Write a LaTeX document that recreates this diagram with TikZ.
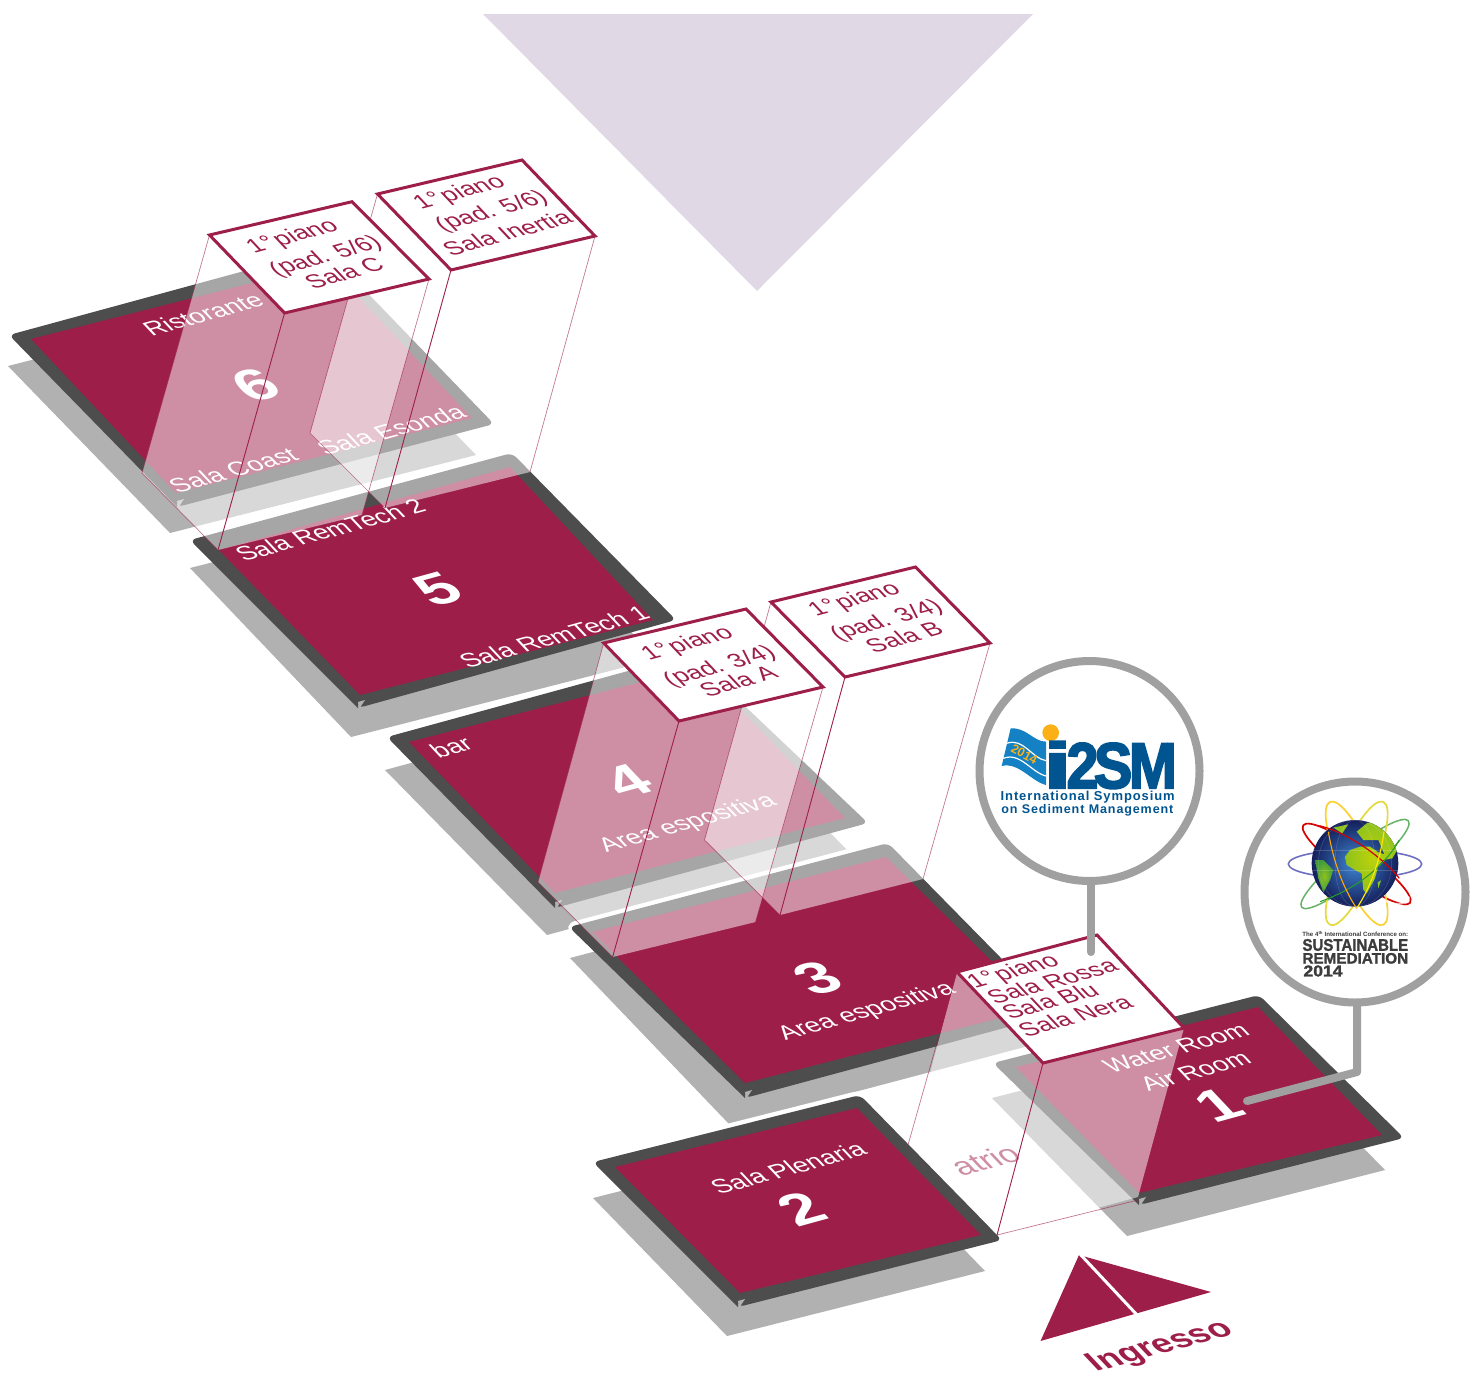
\documentclass[tikz,border=0pt]{standalone}
\usepackage{fontspec}
\usepackage{graphicx}
\setmainfont{Liberation Sans}
\newfontfamily\fatfont[FakeBold=1.6]{Liberation Sans Bold}
\newfontfamily\heavyfont[FakeBold=3.2]{Liberation Sans Bold}
\newfontfamily\spacedfont[LetterSpace=7]{Liberation Sans Bold}
\definecolor{crim}{HTML}{9D1E49}
\definecolor{darkband}{HTML}{4D4D4D}
\definecolor{shadowgray}{HTML}{B1B1B1}
\definecolor{ringgray}{HTML}{A0A0A0}
\definecolor{lilac}{HTML}{E1D8E5}
\definecolor{i2blue}{HTML}{00548F}
\definecolor{flagblue}{HTML}{1481C4}
\definecolor{sunorange}{HTML}{FBB016}
\definecolor{logotext}{HTML}{3C3C3C}
\definecolor{globelight}{HTML}{3F86D3}
\definecolor{globedark}{HTML}{141F5A}
\definecolor{landlime}{HTML}{BBD20A}
\definecolor{landmid}{HTML}{8FC11E}
\definecolor{landdeep}{HTML}{3F9A3C}
\tikzset{
  isotext/.style={transform shape,cm={.964,.266,-.64,.68,(0,0)},inner sep=0pt,text=white,font=\fontsize{26}{26}\selectfont},
  labeltext/.style={isotext,text=crim,font=\fontsize{25.3}{26}\selectfont},
  numtext/.style={transform shape,cm={.964,.266,-.585,.62,(0,0)},inner sep=0pt,text=white,font=\fontsize{64}{64}\selectfont\bfseries},
  floorband/.style={fill=darkband},
  floorcore/.style={fill=crim},
  floorhalo/.style={draw=white,line width=9pt,rounded corners=6pt},
  floorshadow/.style={fill=shadowgray},
  pane/.style={fill=white,fill opacity=.5},
  beamstrong/.style={draw=crim,line width=.9pt},
  beamfaint/.style={draw=crim,line width=.7pt,draw opacity=.6},
  boxtop/.style={fill=white,draw=crim,line width=3pt,line join=miter},
  ring/.style={draw=ringgray,line width=8pt,fill=white},
  stem/.style={draw=ringgray,line width=8pt,line cap=round,line join=round},
}
% band with rounded left, top and right corners, sharp bottom corner with its small notch
\newcommand{\floorbandshape}[4]{%
  \fill[floorband] (#4) [rounded corners=6pt] -- (#1) -- (#2) -- (#3) -- (#4) [sharp corners] -- cycle;
  \begin{scope}[shift={(#4)}]\fill[floorshadow] (1,1) -- (7,-8) -- (0,-6) -- cycle;\end{scope}}
\begin{document}
\begin{tikzpicture}[x=1pt,y=-1pt]
\useasboundingbox (0,0) rectangle (1479,1374);
% big lilac triangle
\fill[lilac] (483,14) -- (1033,14) -- (757,291) -- cycle;
% floor 6
\fill[floorshadow] (8,366) -- (170,533) -- (476,455) -- (314,288) -- cycle;
\floorbandshape{9,335}{325,249}{494,424}{177,507}
\fill[floorcore] (31,339) -- (327,264) -- (472,418) -- (176,493) -- cycle;
% floor 5
\path[floorhalo] (192,540) -- (512,453) -- (674,620) -- (358,708) -- cycle;
\fill[floorshadow] (190,568) -- (351,737) -- (657,659) -- (496,490) -- cycle;
\floorbandshape{190,540}{512,453}{676,620}{358,708}
\fill[floorcore] (219,550) -- (510,467) -- (653,620) -- (360,695) -- cycle;
% floor 4
\path[floorhalo] (388,737) -- (690,654) -- (866,823) -- (555,908) -- cycle;
\fill[floorshadow] (385,770) -- (547,935) -- (850,853) -- (688,688) -- cycle;
\floorbandshape{387,737}{690,654}{868,823}{555,908}
\fill[floorcore] (409,742) -- (699,667) -- (845,818) -- (555,893) -- cycle;
% floor 3
\path[floorhalo] (570,927) -- (888,843) -- (1055,1014) -- (745,1098) -- cycle;
\fill[floorshadow] (570,958) -- (730,1125) -- (1036,1044) -- (876,877) -- cycle;
\floorbandshape{569,927}{888,843}{1056,1014}{745,1098}
\fill[floorcore] (592,932) -- (886,857) -- (1039,1008) -- (745,1083) -- cycle;
% floor 1
\path[floorhalo] (994,1063) -- (1259,995) -- (1403,1138) -- (1139,1205) -- cycle;
\fill[floorshadow] (992,1098) -- (1127,1236) -- (1385,1170) -- (1250,1032) -- cycle;
\floorbandshape{993,1063}{1259,995}{1404,1138}{1139,1205}
\fill[floorcore] (1016,1067) -- (1258,1007) -- (1382,1135) -- (1139,1193) -- cycle;
% floor 2
\path[floorhalo] (594,1162) -- (860,1095) -- (1001,1240) -- (738,1307) -- cycle;
\fill[floorshadow] (593,1198) -- (727,1336) -- (985,1271) -- (851,1133) -- cycle;
\floorbandshape{593,1162}{860,1095}{1002,1240}{738,1307}
\fill[floorcore] (615,1167) -- (857,1108) -- (981,1235) -- (740,1293) -- cycle;
% floor labels
\node[isotext] (t6a) at (203,314) {Ristorante};
\node[isotext] (t6b) at (233,470) {Sala Coast};
\node[isotext] (t6c) at (391,430) {Sala Esonda};
\node[numtext] (n6) at (256,385) {6};
\node[isotext] (t5a) at (330,530) {Sala RemTech 2};
\node[isotext] (t5b) at (554,637) {Sala RemTech 1};
\node[numtext] (n5) at (438,589) {5};
\node[isotext] (t4a) at (451,747) {bar};
\node[isotext] (t4b) at (688,824) {Area espositiva};
\node[numtext] (n4) at (628,781) {4};
\node[isotext] (t3a) at (867,1012) {Area espositiva};
\node[numtext] (n3) at (818,978) {3};
\node[isotext] (t1a) at (1176,1048) {Water Room};
\node[isotext] (t1b) at (1195,1071) {Air Room};
\node[numtext] (n1) at (1219,1105) {1};
\node[isotext] (t2a) at (788,1168) {Sala Plenaria};
\node[numtext] (n2) at (802,1209) {2};
\node[labeltext,font=\fontsize{33}{33}\selectfont] (atrio) at (985,1160) {atrio};
% beams
\fill[pane] (209.5,235) -- (284.6,313) -- (429,279) -- (362,515) -- (218,550) -- (142,473) -- cycle;
\fill[pane] (377.5,194) -- (451,270) -- (595,236) -- (530,472) -- (385,508) -- (310,433) -- cycle;
\fill[pane] (603.7,643) -- (679,721) -- (823,687) -- (755.5,922) -- (612.6,957) -- (538,882) -- cycle;
\fill[pane] (771,602) -- (845,677) -- (990,643) -- (923,879) -- (780,915) -- (704.5,840) -- cycle;
\fill[pane] (957,972) -- (1043,1063) -- (1184,1028) -- (1138,1197) -- (997,1235) -- (911,1144) -- cycle;
% beam edges
\draw[beamfaint] (209.5,235) -- (142,473) -- (218,550);
\draw[beamstrong] (284.6,313) -- (218,550);
\draw[beamfaint] (429,279) -- (362,515);
\draw[beamfaint] (377.5,194) -- (310,433) -- (385,508);
\draw[beamstrong] (451,270) -- (385,508);
\draw[beamfaint] (595,236) -- (530,472);
\draw[beamfaint] (603.7,643) -- (538,882) -- (612.6,957);
\draw[beamstrong] (679,721) -- (612.6,957);
\draw[beamfaint] (823,687) -- (755.5,922);
\draw[beamfaint] (771,602) -- (704.5,840) -- (780,915);
\draw[beamstrong] (845,677) -- (780,915);
\draw[beamfaint] (990,643) -- (923,879);
\draw[beamfaint] (957,972) -- (908,1145);
\draw[beamstrong] (1043,1063) -- (997,1235);
\draw[beamfaint] (997,1235) -- (1138,1200);
% raised boxes
\draw[boxtop] (209.5,235) -- (352,201.7) -- (429,279) -- (284.6,313) -- cycle;
\draw[boxtop] (377.5,194) -- (522,160) -- (595,236) -- (451,270) -- cycle;
\draw[boxtop] (603.7,643) -- (746,609) -- (823,687) -- (679,721) -- cycle;
\draw[boxtop] (771,602) -- (915.5,567) -- (990,643) -- (845,677) -- cycle;
\draw[boxtop] (957,972) -- (1097,935) -- (1184,1028) -- (1043,1063) -- cycle;
% box labels
\node[labeltext] (c1) at (293,237) {1°\kern-4pt{} piano};
\node[labeltext] (c2) at (326,257) {(pad. 5/6)};
\node[labeltext] (c3) at (344,273) {Sala C};
\node[labeltext] (i1) at (460,193) {1°\kern-4pt{} piano};
\node[labeltext] (i2) at (492,212) {(pad. 5/6)};
\node[labeltext] (i3) at (507,233) {Sala Inertia};
\node[labeltext] (a1) at (688,644) {1°\kern-4pt{} piano};
\node[labeltext] (a2) at (720,667) {(pad. 3/4)};
\node[labeltext] (a3) at (738,681) {Sala A};
\node[labeltext] (b1) at (855,600) {1°\kern-4pt{} piano};
\node[labeltext] (b2) at (887,621) {(pad. 3/4)};
\node[labeltext] (b3) at (904,637) {Sala B};
\node[labeltext] (r1) at (1014,972) {1°\kern-4pt{} piano};
\node[labeltext] (r2) at (1052,981) {Sala Rossa};
\node[labeltext] (r3) at (1050,1001) {Sala Blu};
\node[labeltext] (r4) at (1075,1016) {Sala Nera};
% entrance
\fill[crim] (1079,1255) -- (1211,1292) -- (1040.5,1341) -- cycle;
\draw[white,line width=3pt] (1079,1253) -- (1138,1316);
\node[labeltext,font=\fontsize{34.5}{35}\selectfont\bfseries] (ing) at (1161,1347) {Ingresso};
% callout rings
\draw[stem] (1091,880) -- (1091,952);
\draw[ring] (1089.5,771) circle (110pt);
\draw[stem] (1357,1002) -- (1357,1072) -- (1247,1101);
\draw[ring] (1355,892) circle (110.5pt);
% i2SM logo
\begin{scope}[shift={(970,650)},x=.3333pt,y=-.3333pt]
  \fill[flagblue] (122,235) .. controls (170,232) and (190,275) .. (228,275) -- (228,405) .. controls (185,395) and (145,335) .. (95,348) -- cycle;
  \draw[white,line width=1.2pt] (110,280) .. controls (160,262) and (185,325) .. (228,332);
  \draw[white,line width=1.2pt] (100,325) .. controls (150,305) and (185,368) .. (228,378);
  \node[rotate=-28,text=sunorange,inner sep=0pt,font=\fontsize{12.5}{12.5}\selectfont\bfseries] (y14) at (163,313) {2014};
  \fill[sunorange] (242,248) circle (25);
  \node[inner sep=0pt,text=i2blue] (i2sm) at (421,345) {\resizebox{132.7pt}{46.7pt}{\heavyfont\scalebox{1.7}[1]{i}\kern-.08em 2\kern-.08em S\kern-.06em M}};
  \node[inner sep=0pt,text=i2blue] (isl1) at (353,440) {\resizebox{174pt}{!}{\spacedfont International Symposium}};
  \node[inner sep=0pt,text=i2blue] (isl2) at (352,482) {\resizebox{172pt}{!}{\spacedfont on Sediment Management}};
\end{scope}
% sustainable remediation logo
\begin{scope}[shift={(1240,775)},x=.3333pt,y=-.3333pt]
  \draw[draw=blue!40!gray!80,line width=1.6pt] (345,267) ellipse [x radius=200,y radius=42];
  \draw[draw=green!50!black!60,line width=1.5pt,rotate around={39:(345,267)}] (345,267) ellipse [x radius=206,y radius=42];
  \draw[draw=red!85!black,line width=1.7pt,rotate around={-36:(350,267)}] (350,267) ellipse [x radius=198,y radius=42];
  \draw[draw=yellow!60!orange!80,line width=1.7pt,rotate around={-66.6:(350,265)}] (350,265) ellipse [x radius=201,y radius=52];
  \draw[draw=yellow!85!black!85,line width=1.7pt,rotate around={66.6:(350,265)}] (350,265) ellipse [x radius=201,y radius=52];
  \draw[white,opacity=.65,line width=2pt] (430,375) .. controls (460,390) and (495,395) .. (508,365);
  \draw[white,opacity=.65,line width=2pt] (147,280) .. controls (160,300) and (190,310) .. (215,312);
  \shade[inner color=globelight,outer color=globedark] (345,265) circle (130);
  \begin{scope}
    \clip (345,265) circle (130);
    \begin{scope}[shift={(165,60)}]
      \shade[inner color=landlime,outer color=landmid]
        (150,185) -- (165,165) -- (195,155) -- (225,155) -- (250,172) -- (268,178) -- (250,135) -- (205,135) -- (185,110) -- (215,85) -- (240,78) -- (280,105) -- (310,160) -- (292,190) -- (265,195) -- (250,212) -- (240,250) -- (215,295) -- (205,285) -- (200,235) -- (180,225) -- (155,210) -- cycle;
      \shade[inner color=landmid,outer color=landdeep]
        (60,195) -- (85,195) -- (115,225) -- (105,255) -- (85,292) -- (70,250) -- cycle;
      \fill[landmid] (115,98) -- (160,88) -- (142,115) -- cycle;
      \fill[landmid] (248,262) -- (258,256) -- (250,280) -- cycle;
      \draw[white,opacity=.18,line width=.5pt] (40,165) -- (320,165) (40,225) -- (320,225);
      \draw[white,opacity=.18,line width=.5pt] (180,205) ellipse [x radius=60,y radius=130];
      \draw[white,opacity=.18,line width=.5pt] (180,205) ellipse [x radius=110,y radius=130];
    \end{scope}
  \end{scope}
  \draw[draw=red!85!black,line width=1.2pt] (238,152) .. controls (330,175) and (430,250) .. (478,310);
  \draw[draw=green!55!black!85,line width=1pt] (478,195) .. controls (430,280) and (340,345) .. (240,380);
  \draw[draw=orange!70!yellow,line width=1.1pt] (265,170) .. controls (280,260) and (310,340) .. (350,400);
  \draw[draw=yellow!90!orange,line width=1.2pt] (432,170) .. controls (420,260) and (390,340) .. (350,400);
  \node[inner sep=0pt,text=logotext] (cf1) at (346,477) {\resizebox{105.7pt}{!}{\bfseries The 4\textsuperscript{th} International Conference on:}};
  \node[inner sep=0pt,text=logotext] (cf2) at (346,510) {\resizebox{105.7pt}{11.7pt}{\fatfont SUSTAINABLE}};
  \node[inner sep=0pt,text=logotext] (cf3) at (346,550) {\resizebox{105.7pt}{10.5pt}{\fatfont REMEDIATION}};
  \node[inner sep=0pt,text=logotext] (cf4) at (249,588) {\resizebox{39pt}{11pt}{\fatfont 2014}};
\end{scope}
\end{tikzpicture}
\end{document}
